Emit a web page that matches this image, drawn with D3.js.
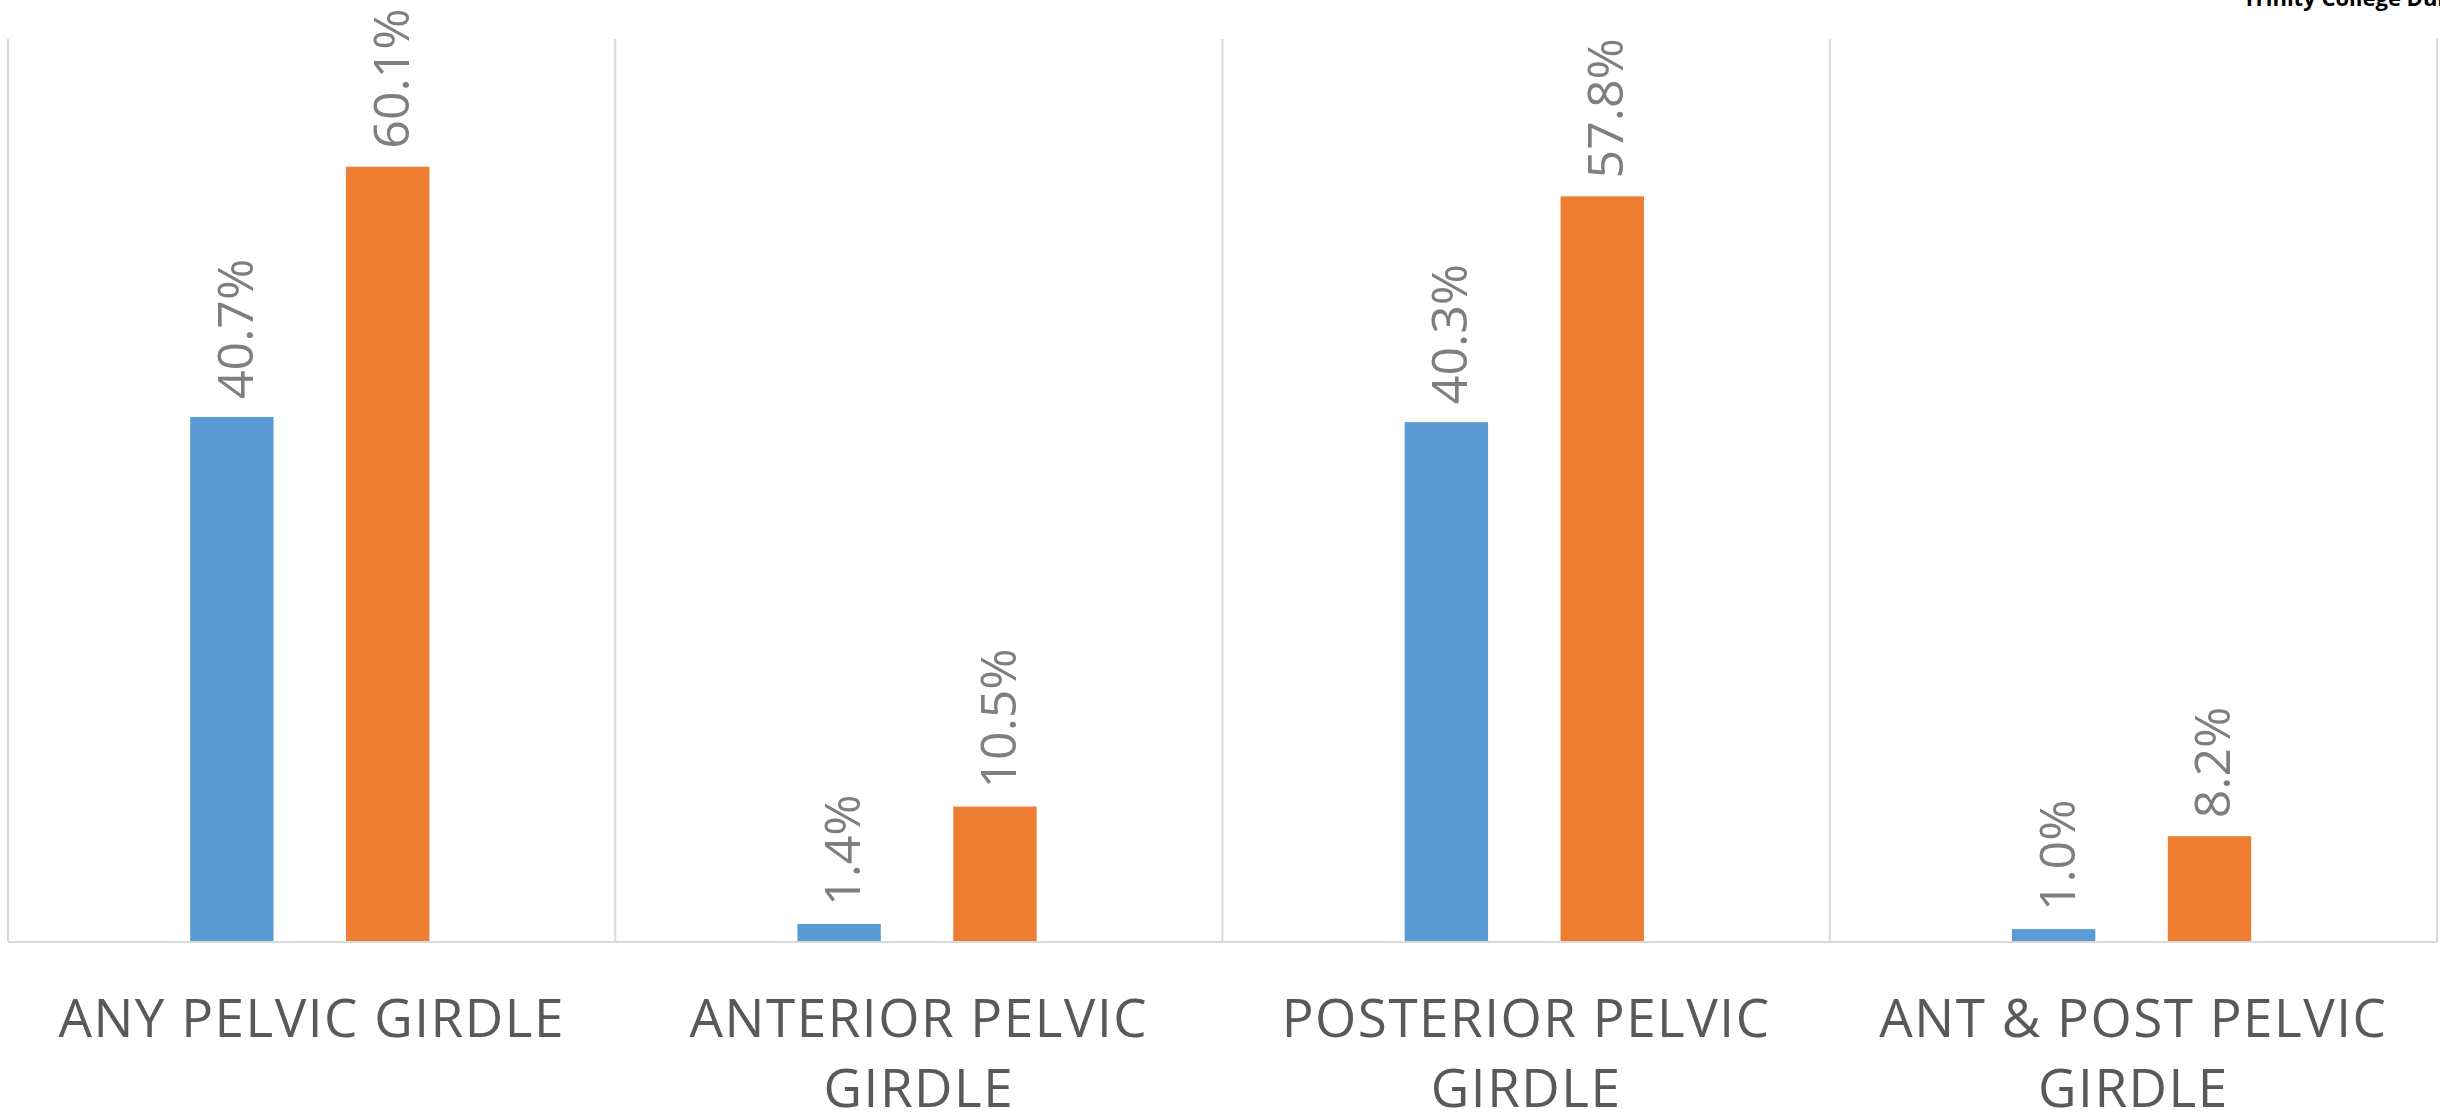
<!DOCTYPE html>
<html>
<head>
<meta charset="utf-8">
<script src="https://cdn.jsdelivr.net/npm/d3@7"></script>
<style>
  html, body { margin: 0; padding: 0; background: #ffffff; }
  svg { display: block; }
</style>
</head>
<body>
<svg id="chart" width="2440" height="1113"></svg>
<script>
// ---- data ----
const categories = ["ANY PELVIC GIRDLE", "ANTERIOR PELVIC GIRDLE", "POSTERIOR PELVIC GIRDLE", "ANT & POST PELVIC GIRDLE"];
const seriesNames = ["Series 1", "Series 2"];
const series1 = [0.407, 0.014, 0.403, 0.010];
const series2 = [0.601, 0.105, 0.578, 0.082];
const seriesColors = ["#5b9bd5", "#ed7d31"];
const yMax = 0.7;
const cornerText = "Trinity College Dublin";

// ---- layout ----
const W = 2440, H = 1113;
const plot = { left: 8, right: 2437, top: 39, bottom: 942 };
const svg = d3.select("#chart");

const x0 = d3.scaleBand().domain(categories).range([plot.left, plot.right]).padding(0);
const bw = x0.bandwidth();
const x1 = d3.scaleBand().domain(seriesNames).range([bw * 0.3, bw * 0.694]).paddingInner(0.465).paddingOuter(0);
const y = d3.scaleLinear().domain([0, yMax]).range([plot.bottom, plot.top]);

const rows = categories.map((c, i) => ({ cat: c, vals: [series1[i], series2[i]] }));

// category gridlines (vertical) and baseline
const gridColor = "#d9d9d9";
const bounds = categories.map(c => x0(c)).concat([plot.right]);
svg.append("g").selectAll("line").data(bounds).join("line")
  .attr("x1", d => d).attr("x2", d => d)
  .attr("y1", plot.top).attr("y2", plot.bottom)
  .attr("stroke", gridColor).attr("stroke-width", 2);

// bars
const groups = svg.append("g").selectAll("g").data(rows).join("g")
  .attr("transform", d => `translate(${x0(d.cat)},0)`);

groups.selectAll("rect").data(d => d.vals.map((v, j) => ({ v, s: seriesNames[j], j })))
  .join("rect")
  .attr("x", d => x1(d.s))
  .attr("width", x1.bandwidth())
  .attr("y", d => y(d.v))
  .attr("height", d => y(0) - y(d.v))
  .attr("fill", d => seriesColors[d.j]);

// data labels
groups.selectAll("text").data(d => d.vals.map((v, j) => ({ v, s: seriesNames[j], j })))
  .join("text")
  .attr("transform", d => `translate(${x1(d.s) + x1.bandwidth() / 2},${y(d.v) - 18}) rotate(-90)`)
  .attr("dy", "0.42em")
  .attr("text-anchor", "start")
  .attr("font-family", "'Open Sans', 'Noto Sans', sans-serif")
  .attr("font-size", 50)
  .attr("fill", "#7f7f7f")
  .text(d => d3.format(".1%")(d.v));

// baseline axis
svg.append("line")
  .attr("x1", plot.left).attr("x2", plot.right)
  .attr("y1", plot.bottom).attr("y2", plot.bottom)
  .attr("stroke", gridColor).attr("stroke-width", 2);

// category labels with wrapping
const catG = svg.append("g");
const maxLabelWidth = 560;
categories.forEach(c => {
  const t = catG.append("text")
    .attr("x", x0(c) + bw / 2)
    .attr("y", 1037)
    .attr("text-anchor", "middle")
    .attr("font-family", "'Open Sans', 'Noto Sans', sans-serif")
    .attr("font-size", 53)
    .attr("letter-spacing", "1.5px")
    .attr("fill", "#595959");
  const words = c.split(" ");
  let line = [];
  let tspan = t.append("tspan").attr("x", x0(c) + bw / 2).attr("dy", 0);
  words.forEach(w => {
    line.push(w);
    tspan.text(line.join(" "));
    if (tspan.node().getComputedTextLength() > maxLabelWidth && line.length > 1) {
      line.pop();
      tspan.text(line.join(" "));
      line = [w];
      tspan = t.append("tspan").attr("x", x0(c) + bw / 2).attr("dy", 70).text(w);
    }
  });
});

// corner text (cut off at top right)
svg.append("text")
  .attr("x", 2243).attr("y", 6)
  .attr("font-family", "'Open Sans', 'Noto Sans', sans-serif")
  .attr("font-weight", "bold")
  .attr("font-size", 22)
  .attr("fill", "#000000")
  .text(cornerText);
</script>
</body>
</html>
